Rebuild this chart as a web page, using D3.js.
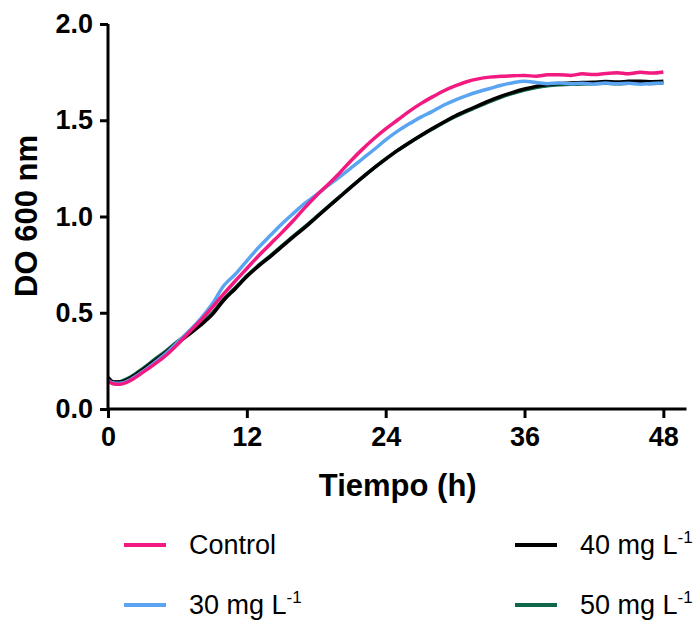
<!DOCTYPE html>
<html>
<head>
<meta charset="utf-8">
<script src="https://cdn.jsdelivr.net/npm/d3@7"></script>
<style>
  html, body { margin: 0; padding: 0; background: #fff; }
  svg { display: block; }
</style>
</head>
<body>
<svg id="chart" width="694" height="623"></svg>
<script>
// Growth curves: optical density at 600 nm over time
const time = [0, 0.5, 1, 2, 3, 4, 5, 6, 7, 8, 9, 10, 11, 12, 13, 14, 15, 16, 17, 18, 19, 20,
  21, 22, 23, 24, 25, 26, 27, 28, 29, 30, 31, 32, 33, 34, 35, 36, 37, 38, 39, 40,
  41, 42, 43, 44, 45, 46, 47, 48];

const control = [0.145, 0.130, 0.128, 0.150, 0.190, 0.232, 0.278, 0.335, 0.398, 0.460, 0.528,
  0.598, 0.665, 0.730, 0.795, 0.855, 0.915, 0.978, 1.045, 1.108, 1.165, 1.225, 1.290, 1.350,
  1.405, 1.455, 1.500, 1.545, 1.585, 1.620, 1.652, 1.678, 1.700, 1.715, 1.724, 1.729, 1.731,
  1.733, 1.728, 1.736, 1.737, 1.733, 1.741, 1.738, 1.743, 1.747, 1.741, 1.749, 1.745, 1.751];

const mg30 = [0.150, 0.135, 0.134, 0.155, 0.195, 0.240, 0.288, 0.345, 0.405, 0.468, 0.545,
  0.640, 0.700, 0.770, 0.838, 0.900, 0.960, 1.015, 1.068, 1.112, 1.160, 1.205, 1.252, 1.300,
  1.348, 1.398, 1.442, 1.480, 1.515, 1.545, 1.578, 1.605, 1.628, 1.648, 1.665, 1.682, 1.695,
  1.702, 1.696, 1.690, 1.694, 1.689, 1.692, 1.688, 1.693, 1.689, 1.692, 1.687, 1.691, 1.693];

const mg40 = [0.165, 0.140, 0.140, 0.163, 0.203, 0.248, 0.293, 0.342, 0.388, 0.435, 0.490,
  0.565, 0.625, 0.688, 0.742, 0.790, 0.842, 0.893, 0.942, 0.995, 1.048, 1.100, 1.152, 1.203,
  1.252, 1.298, 1.342, 1.382, 1.420, 1.456, 1.490, 1.522, 1.550, 1.576, 1.602, 1.625, 1.645,
  1.662, 1.676, 1.686, 1.691, 1.694, 1.696, 1.698, 1.701, 1.699, 1.702, 1.703, 1.700, 1.702];

const mg50 = [0.160, 0.140, 0.142, 0.168, 0.210, 0.256, 0.301, 0.350, 0.396, 0.444, 0.498,
  0.570, 0.630, 0.692, 0.746, 0.794, 0.846, 0.897, 0.946, 0.998, 1.050, 1.102, 1.154, 1.204,
  1.253, 1.299, 1.342, 1.381, 1.418, 1.453, 1.487, 1.518, 1.546, 1.572, 1.597, 1.620, 1.640,
  1.657, 1.670, 1.679, 1.684, 1.687, 1.688, 1.690, 1.692, 1.690, 1.692, 1.693, 1.691, 1.693];

const xTicks = [0, 12, 24, 36, 48];
const yTicks = [0, 0.5, 1.0, 1.5, 2.0];

const seriesNames = ["Control", "30 mg L", "40 mg L", "50 mg L"];
const seriesSup = ["", "-1", "-1", "-1"];
const seriesColors = ["#f21a80", "#5aa4f2", "#000000", "#10674a"];
const seriesValues = [control, mg30, mg40, mg50];

const svg = d3.select("#chart");
const FONT = "'Liberation Sans', Arial, Helvetica, sans-serif";

const x = d3.scaleLinear().domain([0, 50]).range([108, 686.5]);
const y = d3.scaleLinear().domain([0, 2]).range([409, 24]);

// Curves (drawn so that Control ends up on top)
const line = d3.line()
  .x(d => x(d[0]))
  .y(d => y(d[1]))
  .curve(d3.curveMonotoneX);

const drawOrder = [3, 2, 1, 0];
svg.append("g")
  .selectAll("path")
  .data(drawOrder)
  .join("path")
  .attr("fill", "none")
  .attr("stroke", i => seriesColors[i])
  .attr("stroke-width", 3.5)
  .attr("stroke-linejoin", "round")
  .attr("d", i => line(time.map((t, k) => [t, seriesValues[i][k]])));

// Axes
const xAxis = d3.axisBottom(x).tickValues(xTicks).tickSize(9).tickPadding(9).tickFormat(d3.format("d"));
const yAxis = d3.axisLeft(y).tickValues(yTicks).tickSize(8).tickPadding(7).tickFormat(d3.format(".1f"));

const gx = svg.append("g").attr("transform", "translate(0,409)").call(xAxis);
const gy = svg.append("g").attr("transform", "translate(108,0)").call(yAxis);

[gx, gy].forEach(g => {
  g.select(".domain").attr("stroke", "#000").attr("stroke-width", 3);
  g.selectAll(".tick line").attr("stroke", "#000").attr("stroke-width", 3);
  g.selectAll(".tick text")
    .attr("fill", "#000")
    .attr("font-family", FONT)
    .attr("font-weight", "bold")
    .attr("font-size", 27);
});
gx.select(".domain").attr("d", "M108,0H686.5");
gy.select(".domain").attr("d", "M0,409V24");

// Axis titles
svg.append("text")
  .attr("x", x(25) + 0.5)
  .attr("y", 496)
  .attr("text-anchor", "middle")
  .attr("font-family", FONT)
  .attr("font-weight", "bold")
  .attr("font-size", 31)
  .text("Tiempo (h)");

svg.append("text")
  .attr("transform", "translate(37,216) rotate(-90)")
  .attr("text-anchor", "middle")
  .attr("font-family", FONT)
  .attr("font-weight", "bold")
  .attr("font-size", 31)
  .text("DO 600 nm");

// Legend in two columns
const legendPos = [
  { lx: 124, tx: 189, y: 545 },
  { lx: 124, tx: 189, y: 605 },
  { lx: 515, tx: 580, y: 545 },
  { lx: 515, tx: 580, y: 605 }
];

const legend = svg.append("g");
seriesNames.forEach((name, i) => {
  const p = legendPos[i];
  legend.append("line")
    .attr("x1", p.lx).attr("x2", p.lx + 42)
    .attr("y1", p.y).attr("y2", p.y)
    .attr("stroke", seriesColors[i])
    .attr("stroke-width", 4);
  const t = legend.append("text")
    .attr("x", p.tx)
    .attr("y", p.y + 9)
    .attr("font-family", FONT)
    .attr("font-size", 27)
    .attr("fill", "#000")
    .text(name);
  if (seriesSup[i]) {
    t.append("tspan")
      .attr("dy", -11)
      .attr("font-size", 17)
      .text(seriesSup[i]);
  }
});
</script>
</body>
</html>
